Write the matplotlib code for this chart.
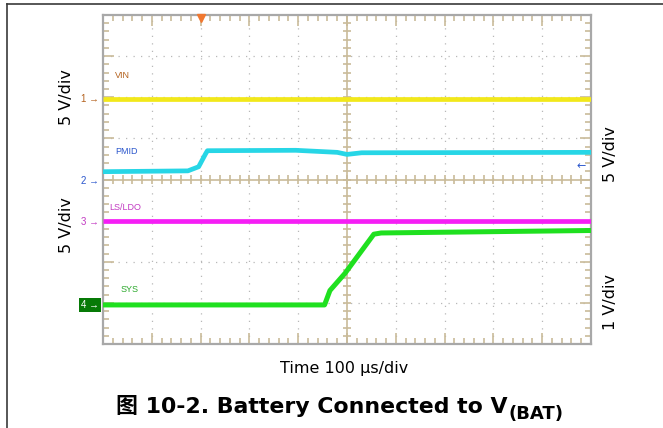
import matplotlib
matplotlib.use('Agg')
import matplotlib.pyplot as plt
from matplotlib.lines import Line2D
import numpy as np

# trace data, in scope divisions (x: 10 div, y: 8 div)
vin_t = [0, 10]
vin_v = [5.96, 5.96]

pmid_t = [0, 1.74, 1.96, 2.10, 2.14, 3.95, 4.80, 5.00, 5.30, 10]
pmid_v = [4.19, 4.21, 4.31, 4.62, 4.70, 4.71, 4.66, 4.61, 4.65, 4.66]

ldo_t = [0, 10]
ldo_v = [2.99, 2.99]

sys_t = [0, 4.54, 4.65, 4.96, 5.55, 5.70, 10]
sys_v = [0.95, 0.95, 1.30, 1.72, 2.67, 2.70, 2.76]

trace_names = ['VIN', 'PMID', 'LS/LDO', 'SYS']
channel_ids = ['1', '2', '3', '4']
channel_levels = [5.96, 3.96, 2.97, 0.94]

W, H = 663, 428
fig = plt.figure(figsize=(W / 100, H / 100), dpi=100)
fig.patch.set_facecolor('white')

# outer frame (top + left only)
fig.add_artist(Line2D([7 / W, 1], [1 - 3.5 / H, 1 - 3.5 / H], color='#3a3a3a', lw=1.2))
fig.add_artist(Line2D([7 / W, 7 / W], [0, 1 - 3.5 / H], color='#3a3a3a', lw=1.2))

ax = fig.add_axes([103 / W, (H - 344) / H, 488 / W, 329 / H])
ax.set_xlim(0, 10)
ax.set_ylim(0, 8)

grid_col = '#c9bb9a'
# dotted major grid
for gx in range(1, 10):
    if gx != 5:
        ax.axvline(gx, color='#b8b8b8', lw=0.9, ls=(0, (1, 5)), zorder=1)
for gy in range(1, 8):
    if gy != 4:
        ax.axhline(gy, color='#b8b8b8', lw=0.9, ls=(0, (1, 5)), zorder=1)

# centre cross
ax.axvline(5, color=grid_col, lw=1.2, zorder=1)
ax.axhline(4, color=grid_col, lw=1.2, zorder=1)
minor_x = np.arange(0, 10.01, 0.2)
minor_y = np.arange(0, 8.01, 0.2)
ax.vlines(minor_x, 4 - 0.11, 4 + 0.11, color=grid_col, lw=1.2, zorder=1)
ax.hlines(minor_y, 5 - 0.09, 5 + 0.09, color=grid_col, lw=1.2, zorder=1)

# edge ticks
ax.set_xticks(np.arange(0, 10.01, 1))
ax.set_yticks(np.arange(0, 8.01, 1))
ax.set_xticks(minor_x, minor=True)
ax.set_yticks(minor_y, minor=True)
ax.tick_params(which='both', direction='in', top=True, right=True, color=grid_col,
               labelleft=False, labelbottom=False, width=1.2)
ax.tick_params(which='major', length=8)
ax.tick_params(which='minor', length=4.5)
for s in ax.spines.values():
    s.set_color('#a8a8a8')
    s.set_linewidth(1.6)

# traces
ax.plot(vin_t, vin_v, color='#f2e81a', lw=3.4, solid_capstyle='butt', zorder=3)
ax.plot(pmid_t, pmid_v, color='#27d6e6', lw=3.4, solid_capstyle='butt', zorder=3)
ax.plot(ldo_t, ldo_v, color='#f51ef5', lw=3.4, solid_capstyle='butt', zorder=3)
ax.plot(sys_t, sys_v, color='#1fe01f', lw=3.6, solid_capstyle='butt', zorder=3)

# trace names
name_pos = [(0.25, 6.52), (0.25, 4.68), (0.12, 3.32), (0.35, 1.32)]
name_cols = ['#b4621e', '#2a56cc', '#c23ac2', '#2aa82a']
for name, (px, py), c in zip(trace_names, name_pos, name_cols):
    ax.text(px, py, name, color=c, fontsize=6.5, family='Liberation Sans',
            ha='left', va='center', zorder=4)

# channel markers on the left
chan_cols = ['#b4621e', '#2a56cc', '#c23ac2', '#ffffff']
for cid, lvl, c in zip(channel_ids, channel_levels, chan_cols):
    ax.annotate(cid + ' \u2192', xy=(0, lvl), xytext=(-3, 0), textcoords='offset points',
                ha='right', va='center', fontsize=7, color=c, family='Liberation Sans',
                annotation_clip=False,
                bbox=dict(boxstyle='square,pad=0.2', fc='#077a07', ec='none') if cid == '4' else None)

# right side arrow
ax.annotate('\u2190', xy=(9.8, 4.33), ha='center', va='center', fontsize=8, color='#2a56cc')

# trigger marker
ax.plot([2.0], [7.92], marker='v', color='#f07830', markersize=6, clip_on=False, zorder=5)

lbl = dict(family='DejaVu Sans', fontsize=11.5, rotation=90, ha='center', va='center')
fig.text(66 / W, 1 - 97 / H, '5 V/div', **lbl)
fig.text(66 / W, 1 - 225 / H, '5 V/div', **lbl)
fig.text(611 / W, 1 - 154 / H, '5 V/div', **lbl)
fig.text(611 / W, 1 - 302 / H, '1 V/div', **lbl)

fig.text(344 / W, 1 - 368 / H, 'Time 100 \u00b5s/div', family='DejaVu Sans',
         fontsize=11.5, ha='center', va='center')

# caption, with the subscript placed right after the main text
cap = fig.text(116 / W, 1 - 413 / H, '图 10-2. Battery Connected to V',
               family=['DejaVu Sans', 'Noto Sans CJK SC'], fontweight='bold',
               fontsize=15.8, ha='left', va='baseline')
fig.canvas.draw()
cap_end = cap.get_window_extent().x1 / W
fig.text(cap_end + 1 / W, 1 - 419 / H, '(BAT)', family='DejaVu Sans', fontweight='bold',
         fontsize=13, ha='left', va='baseline')

fig.savefig('out.png', dpi=100)
